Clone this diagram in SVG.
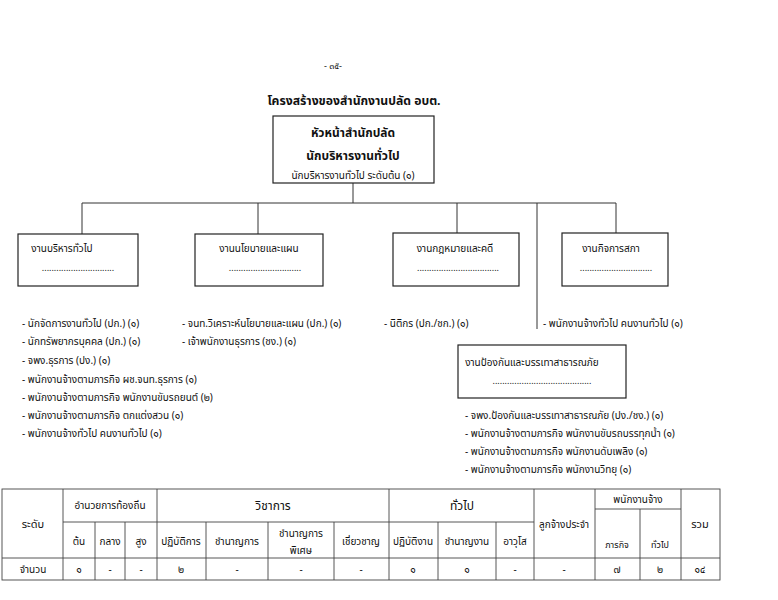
<svg xmlns="http://www.w3.org/2000/svg" width="778" height="600" viewBox="0 0 778 600">
<style>
text{font-family:"Noto Sans Thai","Noto Sans","DejaVu Sans",sans-serif;fill:#111;}
.s{font-size:10px;}
.c{text-anchor:middle;}
.b{font-weight:bold;}
.box{fill:#fff;stroke:#222;stroke-width:1.2;}
.ln{fill:none;stroke:#333;stroke-width:1;}
.t{fill:none;stroke:#444;stroke-width:0.9;}
</style>
<rect width="778" height="600" fill="#fff"/>
<text x="333" y="69" class="c" font-size="9">- ๓๕-</text>
<text x="354" y="105" class="c b" font-size="12.2">โครงสร้างของสำนักงานปลัด อบต.</text>

<g id="connectors">
<path class="ln" d="M353,183 V203 M82,203 H616 M82,203 V234 M258,203 V234 M457,203 V233 M616,203 V233 M537,203 V329"/>
</g>

<g id="head">
<rect class="box" x="273" y="116" width="161" height="67"/>
<text x="353" y="137" class="c b" font-size="12">หัวหน้าสำนักปลัด</text>
<text x="353" y="160" class="c b" font-size="12">นักบริหารงานทั่วไป</text>
<text x="353" y="179" class="c s">นักบริหารงานทั่วไป ระดับต้น (๑)</text>
</g>

<g id="n1">
<rect class="box" x="18" y="234" width="120" height="52"/>
<text x="62" y="252" class="c s">งานบริหารทั่วไป</text>
<text x="78" y="271" class="c" font-size="9">..............................</text>
</g>
<g id="n2">
<rect class="box" x="195" y="234" width="128" height="52"/>
<text x="259" y="252" class="c s">งานนโยบายและแผน</text>
<text x="265" y="271" class="c" font-size="9">..............................</text>
</g>
<g id="n3">
<rect class="box" x="393" y="233" width="126" height="53"/>
<text x="455" y="252" class="c s">งานกฎหมายและคดี</text>
<text x="458" y="271" class="c" font-size="9">..................................</text>
</g>
<g id="n4">
<rect class="box" x="562" y="233" width="106" height="53"/>
<text x="611" y="252" class="c s">งานกิจการสภา</text>
<text x="616" y="271" class="c" font-size="9">..............................</text>
</g>
<g id="n5">
<rect class="box" x="458" y="345" width="168" height="53"/>
<text x="532" y="366" class="c s">งานป้องกันและบรรเทาสาธารณภัย</text>
<text x="542" y="384" class="c" font-size="9">.........................................</text>
</g>

<g id="lists" class="s">
<text x="22" y="327" class="s">- นักจัดการงานทั่วไป (ปก.) (๑)</text>
<text x="22" y="345" class="s">- นักทรัพยากรบุคคล (ปก.)  (๑)</text>
<text x="22" y="364" class="s">- จพง.ธุรการ   (ปง.) (๑)</text>
<text x="22" y="383" class="s">- พนักงานจ้างตามภารกิจ ผช.จนท.ธุรการ  (๑)</text>
<text x="22" y="401" class="s">- พนักงานจ้างตามภารกิจ  พนักงานขับรถยนต์  (๒)</text>
<text x="22" y="419" class="s">- พนักงานจ้างตามภารกิจ  ตกแต่งสวน  (๑)</text>
<text x="22" y="437" class="s">- พนักงานจ้างทั่วไป คนงานทั่วไป  (๑)</text>
<text x="182" y="327" class="s">-  จนท.วิเคราะห์นโยบายและแผน (ปก.) (๑)</text>
<text x="182" y="345" class="s">-  เจ้าพนักงานธุรการ (ชง.) (๑)</text>
<text x="384" y="327" class="s">- นิติกร  (ปก./ชก.)  (๑)</text>
<text x="543" y="327" class="s">- พนักงานจ้างทั่วไป คนงานทั่วไป (๑)</text>
<text x="465" y="419" class="s">-  จพง.ป้องกันและบรรเทาสาธารณภัย  (ปง./ชง.)  (๑)</text>
<text x="465" y="437" class="s">-  พนักงานจ้างตามภารกิจ  พนักงานขับรถบรรทุกน้ำ  (๑)</text>
<text x="465" y="455" class="s">-  พนักงานจ้างตามภารกิจ  พนักงานดับเพลิง  (๑)</text>
<text x="465" y="473" class="s">-  พนักงานจ้างตามภารกิจ  พนักงานวิทยุ  (๑)</text>
</g>

<g id="table">
<rect class="t" x="2" y="489" width="718" height="91"/>
<path class="t" d="M63,489 V580 M157,489 V580 M389,489 V580 M534,489 V580 M595,489 V580 M681,489 V580
M63,522 H534 M595,509 H681 M2,558 H720
M95,522 V580 M125,522 V580 M206,522 V580 M268,522 V580 M334,522 V580 M438,522 V580 M496,522 V580 M640,509 V580"/>
<text x="33" y="528" class="c" font-size="11">ระดับ</text>
<text x="110" y="509" class="c s">อำนวยการท้องถิ่น</text>
<text x="273" y="510" class="c" font-size="12">วิชาการ</text>
<text x="462" y="510" class="c" font-size="12">ทั่วไป</text>
<text x="564" y="528" class="c s">ลูกจ้างประจำ</text>
<text x="638" y="503" class="c s">พนักงานจ้าง</text>
<text x="700" y="528" class="c" font-size="11">รวม</text>
<text x="79" y="545" class="c s">ต้น</text>
<text x="110" y="545" class="c s">กลาง</text>
<text x="141" y="545" class="c s">สูง</text>
<text x="181" y="545" class="c s">ปฏิบัติการ</text>
<text x="237" y="545" class="c s">ชำนาญการ</text>
<text x="301" y="537" class="c s">ชำนาญการ</text>
<text x="301" y="554" class="c s">พิเศษ</text>
<text x="361" y="545" class="c s">เชี่ยวชาญ</text>
<text x="413" y="545" class="c s">ปฏิบัติงาน</text>
<text x="467" y="545" class="c s">ชำนาญงาน</text>
<text x="515" y="545" class="c s">อาวุโส</text>
<text x="617" y="548" class="c" font-size="9">ภารกิจ</text>
<text x="660" y="548" class="c" font-size="9">ทั่วไป</text>
<text x="33" y="573" class="c s">จำนวน</text>
<text x="79" y="573" class="c s">๑</text>
<text x="110" y="573" class="c s">-</text>
<text x="141" y="573" class="c s">-</text>
<text x="181" y="573" class="c s">๒</text>
<text x="237" y="573" class="c s">-</text>
<text x="301" y="573" class="c s">-</text>
<text x="361" y="573" class="c s">-</text>
<text x="413" y="573" class="c s">๑</text>
<text x="467" y="573" class="c s">๑</text>
<text x="515" y="573" class="c s">-</text>
<text x="564" y="573" class="c s">-</text>
<text x="617" y="573" class="c s">๗</text>
<text x="660" y="573" class="c s">๒</text>
<text x="700" y="573" class="c s">๑๔</text>
</g>
</svg>
